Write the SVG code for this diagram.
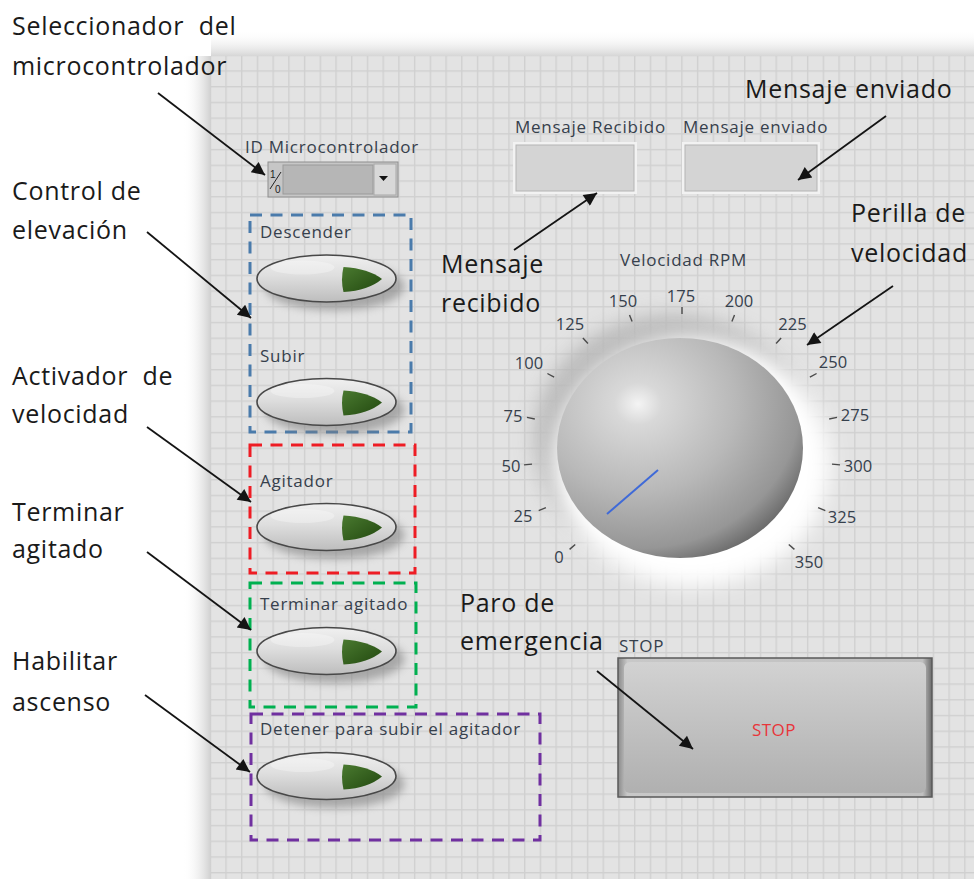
<svg xmlns="http://www.w3.org/2000/svg" width="974" height="879" viewBox="0 0 974 879">
<defs>
  <pattern id="grid" patternUnits="userSpaceOnUse" x="225.3" y="70.3" width="15.72" height="15.72">
    <rect width="15.72" height="15.72" fill="#e3e3e3"/>
    <rect width="1.4" height="15.72" fill="#d0d0d0"/>
    <rect width="15.72" height="1.4" fill="#d0d0d0"/>
  </pattern>
  <linearGradient id="shLeft" x1="0" x2="1" y1="0" y2="0">
    <stop offset="0" stop-color="#ffffff" stop-opacity="0"/>
    <stop offset="1" stop-color="#cfcfcf"/>
  </linearGradient>
  <linearGradient id="shTop" x1="0" x2="0" y1="0" y2="1">
    <stop offset="0" stop-color="#ffffff" stop-opacity="0"/>
    <stop offset="1" stop-color="#d6d6d6"/>
  </linearGradient>
  <linearGradient id="btnGrad" x1="0" x2="0" y1="0" y2="1">
    <stop offset="0" stop-color="#f0f0f0"/>
    <stop offset="0.45" stop-color="#dedede"/>
    <stop offset="1" stop-color="#bdbdbd"/>
  </linearGradient>
  <linearGradient id="ledGrad" x1="0" x2="1" y1="0" y2="1">
    <stop offset="0" stop-color="#4a7a30"/>
    <stop offset="1" stop-color="#22480f"/>
  </linearGradient>
  <radialGradient id="knobGrad" cx="0.33" cy="0.3" r="0.8">
    <stop offset="0" stop-color="#f4f4f4"/>
    <stop offset="0.12" stop-color="#d8d8d8"/>
    <stop offset="0.5" stop-color="#b8b8b8"/>
    <stop offset="0.82" stop-color="#969696"/>
    <stop offset="0.95" stop-color="#6c6c6c"/>
    <stop offset="1" stop-color="#4a4a4a"/>
  </radialGradient>
  <linearGradient id="stopGrad" x1="0" x2="0" y1="0" y2="1">
    <stop offset="0" stop-color="#d2d2d2"/>
    <stop offset="0.6" stop-color="#bdbdbd"/>
    <stop offset="1" stop-color="#b0b0b0"/>
  </linearGradient>
  <linearGradient id="stopEdge" x1="0" x2="1" y1="0" y2="0">
    <stop offset="0" stop-color="#8a8a8a"/>
    <stop offset="0.03" stop-color="#c8c8c8"/>
    <stop offset="0.97" stop-color="#c0c0c0"/>
    <stop offset="1" stop-color="#6a6a6a"/>
  </linearGradient>
  <filter id="blur4" x="-30%" y="-50%" width="160%" height="200%"><feGaussianBlur stdDeviation="4"/></filter>
  <filter id="blur10" x="-40%" y="-40%" width="180%" height="180%"><feGaussianBlur stdDeviation="10"/></filter>
  <marker id="ah" viewBox="0 0 10 10" refX="10" refY="5" markerUnits="userSpaceOnUse" markerWidth="17" markerHeight="13" orient="auto">
    <path d="M0,0 L10,5 L0,10 z" fill="#141414"/>
  </marker>
  <g id="btn">
    <ellipse cx="8" cy="8" rx="70" ry="24" fill="#808080" opacity="0.6" filter="url(#blur4)"/>
    <ellipse cx="0" cy="0" rx="69.5" ry="23.5" fill="url(#btnGrad)" stroke="#484848" stroke-width="1.6"/>
    <ellipse cx="-24" cy="-11" rx="32" ry="7" fill="#ffffff" opacity="0.3"/>
    <path d="M17,-11.5 Q42,-10 55.5,0.5 Q42,12 17,13.5 Q14,1 17,-11.5 Z" fill="url(#ledGrad)"/>
  </g>
</defs>
<style>
  .ann { font-family: "Open Sans", "Noto Sans", "DejaVu Sans", sans-serif; font-size: 25px; letter-spacing: 0.7px; fill: #1a1a1a; white-space: pre; }
  .lbl { font-family: "Open Sans", "Noto Sans", "DejaVu Sans", sans-serif; font-size: 17px; letter-spacing: 0.75px; fill: #36404c; }
  .tick { font-family: "Open Sans", "Noto Sans", "DejaVu Sans", sans-serif; font-size: 16.5px; fill: #36404c; text-anchor: middle; }
  .conn line { stroke: #141414; stroke-width: 1.8; marker-end: url(#ah); }
  .box { fill: none; stroke-width: 3; stroke-dasharray: 12 8.5; }
  .tk { stroke: #4a4a4a; stroke-width: 1.4; }
</style>

<rect x="0" y="0" width="974" height="879" fill="#ffffff"/>
<rect x="183" y="56" width="28" height="823" fill="url(#shLeft)"/>
<rect x="211" y="30" width="763" height="26" fill="url(#shTop)"/>
<rect x="211" y="56" width="763" height="823" fill="url(#grid)"/>

<g id="lbl-seleccionador">
  <text class="ann" x="12" y="35">Seleccionador  del</text>
  <text class="ann" x="12" y="75">microcontrolador</text>
</g>
<g id="lbl-control">
  <text class="ann" x="12" y="200">Control de</text>
  <text class="ann" x="12" y="239">elevación</text>
</g>
<g id="lbl-activador">
  <text class="ann" x="12" y="385">Activador  de</text>
  <text class="ann" x="12" y="423">velocidad</text>
</g>
<g id="lbl-terminar">
  <text class="ann" x="12" y="521">Terminar</text>
  <text class="ann" x="12" y="558">agitado</text>
</g>
<g id="lbl-habilitar">
  <text class="ann" x="12" y="670">Habilitar</text>
  <text class="ann" x="12" y="711">ascenso</text>
</g>
<g id="lbl-enviado">
  <text class="ann" x="745" y="98">Mensaje enviado</text>
</g>
<g id="lbl-perilla">
  <text class="ann" x="851" y="222">Perilla de</text>
  <text class="ann" x="851" y="262">velocidad</text>
</g>
<g id="lbl-recibido">
  <text class="ann" x="441" y="273">Mensaje</text>
  <text class="ann" x="441" y="312">recibido</text>
</g>
<g id="lbl-paro">
  <text class="ann" x="460" y="612">Paro de</text>
  <text class="ann" x="460" y="650">emergencia</text>
</g>

<g id="ring-id">
  <text class="lbl" x="245" y="153">ID Microcontrolador</text>
  <rect x="268" y="162" width="130" height="35" fill="#c6c6c6" stroke="#8e8e8e" stroke-width="1"/>
  <text x="270" y="178" font-family="'Liberation Sans', sans-serif" font-size="10" fill="#222">1</text>
  <line x1="270" y1="189" x2="281" y2="172" stroke="#222" stroke-width="1"/>
  <text x="275" y="193" font-family="'Liberation Sans', sans-serif" font-size="10" fill="#222">0</text>
  <rect x="283" y="165" width="90" height="29" fill="#b6b6b6" stroke="#9a9a9a" stroke-width="1"/>
  <rect x="374" y="164" width="22" height="31" fill="#d8d8d8" stroke="#a8a8a8" stroke-width="1"/>
  <polygon points="379,176 388,176 383.5,181" fill="#111"/>
</g>

<g id="msg-recibido">
  <text class="lbl" x="515" y="133">Mensaje Recibido</text>
  <rect x="513" y="142" width="124" height="52" fill="#f2f2f2"/>
  <rect x="516" y="145" width="118" height="46" fill="#d4d4d4" stroke="#b4b4b4" stroke-width="1"/>
</g>
<g id="msg-enviado">
  <text class="lbl" x="683" y="133">Mensaje enviado</text>
  <rect x="682" y="142" width="138" height="52" fill="#f2f2f2"/>
  <rect x="685" y="145" width="132" height="46" fill="#d4d4d4" stroke="#b4b4b4" stroke-width="1"/>
</g>

<g id="grp-elevacion">
  <rect class="box" x="250" y="215" width="161" height="217" stroke="#4a7bab"/>
  <text class="lbl" x="260" y="238">Descender</text>
  <use href="#btn" x="326.5" y="278.5"/>
  <text class="lbl" x="260" y="362">Subir</text>
  <use href="#btn" x="326.5" y="402"/>
</g>
<g id="grp-agitador">
  <rect class="box" x="250" y="445" width="165" height="128" stroke="#ee1c24"/>
  <text class="lbl" x="260" y="487">Agitador</text>
  <use href="#btn" x="326.5" y="527"/>
</g>
<g id="grp-terminar">
  <rect class="box" x="250" y="583" width="166" height="124" stroke="#00b050"/>
  <text class="lbl" x="260" y="610">Terminar agitado</text>
  <use href="#btn" x="326.5" y="651"/>
</g>
<g id="grp-detener">
  <rect class="box" x="251" y="714" width="289" height="126" stroke="#7030a0"/>
  <text class="lbl" x="260" y="735">Detener para subir el agitador</text>
  <use href="#btn" x="326.5" y="776"/>
</g>

<g id="knob">
  <text class="lbl" x="620" y="266">Velocidad RPM</text>
  <ellipse cx="672" cy="438" rx="138" ry="124" fill="#b4b4b4" opacity="0.85" filter="url(#blur10)"/>
  <ellipse cx="692" cy="462" rx="138" ry="124" fill="#ffffff" filter="url(#blur10)"/>
  <ellipse cx="680" cy="448" rx="123" ry="110" fill="url(#knobGrad)"/>
  <line x1="607" y1="514" x2="658" y2="470" stroke="#3f6ad8" stroke-width="2"/>
  <g>
    <line class="tk" x1="575.2" y1="544.5" x2="569.6" y2="549.4"/>
    <line class="tk" x1="545.9" y1="507.6" x2="538.7" y2="510.6"/>
    <line class="tk" x1="532" y1="464.1" x2="524" y2="464.9"/>
    <line class="tk" x1="534.8" y1="419" x2="527" y2="417.4"/>
    <line class="tk" x1="554.1" y1="377.2" x2="547.4" y2="373.5"/>
    <line class="tk" x1="587.9" y1="343.5" x2="582.9" y2="338"/>
    <line class="tk" x1="632.1" y1="321.6" x2="629.5" y2="315"/>
    <line class="tk" x1="682" y1="314" x2="682" y2="307"/>
    <line class="tk" x1="731.9" y1="321.6" x2="734.5" y2="315"/>
    <line class="tk" x1="776.1" y1="343.5" x2="781.1" y2="338"/>
    <line class="tk" x1="809.9" y1="377.2" x2="816.6" y2="373.5"/>
    <line class="tk" x1="829.2" y1="419" x2="837" y2="417.4"/>
    <line class="tk" x1="832" y1="464.1" x2="840" y2="464.9"/>
    <line class="tk" x1="818.1" y1="507.6" x2="825.3" y2="510.6"/>
    <line class="tk" x1="788.8" y1="544.5" x2="794.4" y2="549.4"/>
  </g>
  <text class="tick" x="559" y="563">0</text>
  <text class="tick" x="523" y="522">25</text>
  <text class="tick" x="511" y="472">50</text>
  <text class="tick" x="513" y="422">75</text>
  <text class="tick" x="529" y="369">100</text>
  <text class="tick" x="570" y="330">125</text>
  <text class="tick" x="623" y="307">150</text>
  <text class="tick" x="681" y="302">175</text>
  <text class="tick" x="739" y="307">200</text>
  <text class="tick" x="792.5" y="330">225</text>
  <text class="tick" x="833" y="368">250</text>
  <text class="tick" x="855" y="421">275</text>
  <text class="tick" x="858" y="472">300</text>
  <text class="tick" x="842" y="523">325</text>
  <text class="tick" x="809" y="568">350</text>
</g>

<g id="stop">
  <text class="lbl" x="619" y="652">STOP</text>
  <rect x="618" y="658" width="314" height="139" fill="url(#stopEdge)" stroke="#5a5a5a" stroke-width="1.5"/>
  <rect x="624" y="662" width="302" height="131" rx="6" fill="url(#stopGrad)"/>
  <text x="774" y="736" text-anchor="middle" font-family="'Open Sans', 'Noto Sans', sans-serif" font-size="17" letter-spacing="0.5" fill="#e8353a">STOP</text>
</g>

<g id="connectors" class="conn">
  <line x1="158" y1="93" x2="265" y2="175"/>
  <line x1="147" y1="232" x2="251" y2="318"/>
  <line x1="147" y1="427" x2="251" y2="502"/>
  <line x1="147" y1="552" x2="251" y2="630"/>
  <line x1="145" y1="695" x2="250" y2="772"/>
  <line x1="886" y1="116" x2="798" y2="180"/>
  <line x1="514" y1="250" x2="597" y2="193"/>
  <line x1="893" y1="286" x2="807" y2="345"/>
  <line x1="597" y1="671" x2="693" y2="749"/>
</g>
</svg>
